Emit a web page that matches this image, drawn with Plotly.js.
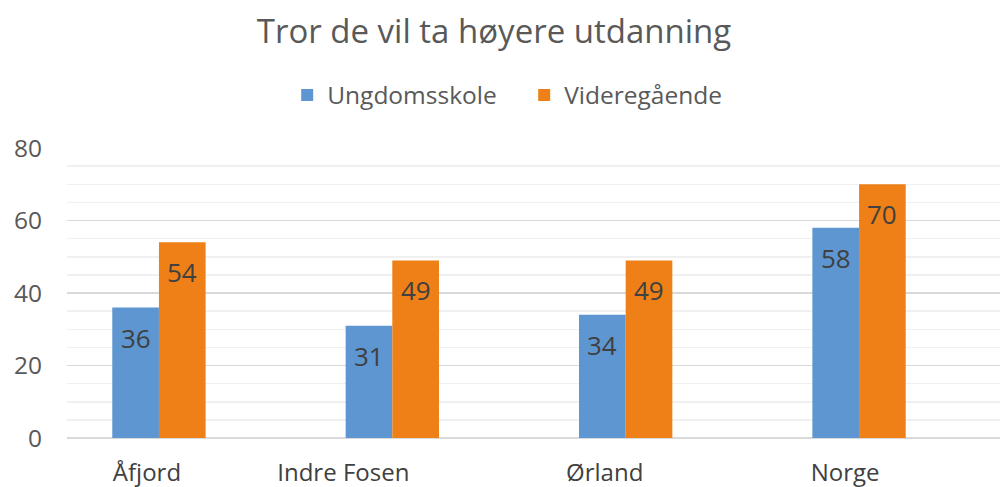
<!DOCTYPE html>
<html><head><meta charset="utf-8">
<script src="https://cdn.plot.ly/plotly-3.0.1.min.js"></script>
<style>html,body{margin:0;padding:0;background:#fff}#chart{width:1000px;height:487px}</style>
</head><body><div id="chart"></div>
<script>
const categories = ["Åfjord", "Indre Fosen", "Ørland", "Norge"];
const seriesNames = ["Ungdomsskole", "Videregående"];
const ungdomsskole = [36, 31, 34, 58];
const videregaende = [54, 49, 49, 70];
const yTicks = [0, 20, 40, 60, 80];

const colors = ["#5E96D1", "#EE8017"];
const xIdx = categories.map((c, i) => i);
const font = "'Open Sans', 'Liberation Sans', Arial, sans-serif";
const xRange = [-0.394, 3.604];
const pxPerUnit = 933 / (xRange[1] - xRange[0]);
const labelShiftPx = [-12, -49, -21, -14];
const tickPos = xIdx.map((i, k) => i + labelShiftPx[k] / pxPerUnit);

const traces = [ungdomsskole, videregaende].map((vals, s) => ({
  type: "bar", name: seriesNames[s], x: xIdx, y: vals,
  marker: {color: colors[s]}, hoverinfo: "skip"
}));

const annotations = [];
[ungdomsskole, videregaende].forEach((vals, s) => {
  vals.forEach((v, i) => {
    annotations.push({
      x: i + (s === 0 ? -0.1 : 0.1), y: v, xref: "x", yref: "y",
      text: String(v), showarrow: false, yanchor: "middle", yshift: -30,
      font: {family: font, size: 26, color: "#404040"}
    });
  });
});

const layout = {
  width: 1000, height: 487,
  margin: {l: 67, r: 0, t: 148, b: 49},
  paper_bgcolor: "#fff", plot_bgcolor: "#fff",
  font: {family: font, color: "#595959"},
  title: {text: "Tror de vil ta høyere utdanning", x: 0.494, xanchor: "center", y: 0.935, yanchor: "middle",
          font: {family: font, size: 33, color: "#595959"}},
  showlegend: true,
  legend: {orientation: "h", x: 0.236, xanchor: "left", y: 1 - 95 / 487, yref: "container", yanchor: "middle",
           font: {family: font, size: 24.5, color: "#595959"}, itemwidth: 30, traceorder: "normal",
           entrywidth: 192, entrywidthmode: "pixels"},
  barmode: "group", bargap: 0.6, bargroupgap: 0,
  xaxis: {type: "linear", range: xRange, tickvals: tickPos, ticktext: categories,
          showgrid: false, zeroline: false, showline: false, ticks: "", ticklabelstandoff: 18,
          tickfont: {family: font, size: 24, color: "#404040"}, fixedrange: true},
  yaxis: {range: [0, 80], tickvals: yTicks, showgrid: true, gridcolor: "#D9D9D9", gridwidth: 1.5,
          zeroline: true, zerolinecolor: "#D9D9D9", zerolinewidth: 1.5, showline: false, ticks: "",
          ticklabelstandoff: 24,
          minor: {dtick: 5, showgrid: true, gridcolor: "#F0F0F0", gridwidth: 1.5},
          tickfont: {family: font, size: 24.5, color: "#595959"}, fixedrange: true},
  annotations: annotations
};
Plotly.newPlot("chart", traces, layout, {displayModeBar: false, staticPlot: true});
</script></body></html>
